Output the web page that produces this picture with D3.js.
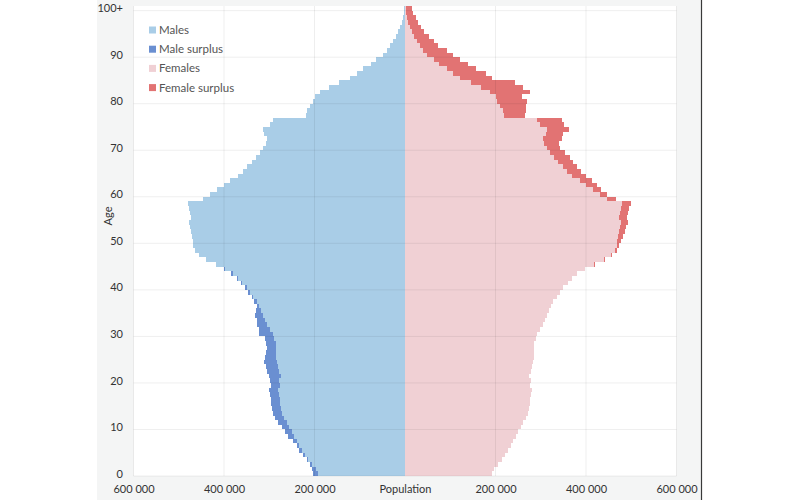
<!DOCTYPE html>
<html>
<head>
<meta charset="utf-8">
<script src="https://cdn.jsdelivr.net/npm/d3@7"></script>
<style>
  html, body { margin: 0; padding: 0; background: #ffffff; }
  svg { display: block; font-family: Lato, "Open Sans", sans-serif; }
</style>
</head>
<body>
<svg id="chart" width="800" height="500"></svg>
<script>
// Ages 0 .. 100 (last bar = 100+)
const ages = d3.range(0, 101);
const ageTicks = [0, 10, 20, 30, 40, 50, 60, 70, 80, 90, 100];
const ageTickLabels = ["0", "10", "20", "30", "40", "50", "60", "70", "80", "90", "100+"];
const popTicks = [-600000, -400000, -200000, 0, 200000, 400000, 600000];
const popTickLabels = ["600 000", "400 000", "200 000", "Population", "200 000", "400 000", "600 000"];

// thousands
const males = [
  203, 206, 211, 217, 225, 234, 239, 247, 258, 265,
  272, 280, 287, 291, 295, 296, 297, 298, 300, 297,
  298, 300, 304, 307, 312, 309, 307, 306, 307, 309,
  322, 322, 326, 328, 331, 330, 328, 333, 339, 346,
  353, 362, 372, 385, 400, 418, 440, 455, 464, 468,
  469, 471, 473, 475, 477, 474, 475, 477, 479, 446,
  431, 415, 401, 387, 368, 357, 350, 339, 329, 320,
  313, 307, 306, 311, 313, 298, 291, 219, 217, 210,
  203, 200, 188, 167, 145, 122, 107, 92, 76, 63,
  49, 40, 33, 26, 20, 15, 11, 7, 5, 3,
  3
];
const females = [
  192, 197, 206, 214, 221, 228, 234, 239, 245, 250,
  256, 261, 267, 272, 275, 276, 276, 278, 280, 276,
  278, 275, 278, 280, 282, 284, 284, 284, 286, 290,
  292, 298, 306, 309, 313, 318, 322, 328, 335, 343,
  350, 361, 368, 381, 398, 420, 442, 458, 468, 474,
  478, 482, 486, 489, 492, 490, 492, 494, 500, 466,
  446, 434, 424, 413, 401, 390, 381, 372, 365, 354,
  343, 341, 346, 350, 363, 351, 348, 265, 267, 267,
  269, 258, 276, 261, 243, 192, 179, 158, 140, 122,
  105, 92, 74, 63, 52, 42, 35, 29, 24, 18,
  15
];

const legendItems = ["Males", "Male surplus", "Females", "Female surplus"];
const colors = {
  "Males": "#a9cde7",
  "Male surplus": "#6a8fd1",
  "Females": "#f0d0d4",
  "Female surplus": "#e27373"
};

const svg = d3.select("#chart");
const W = 800, H = 500;

const plot = { left: 133.5, right: 676.5, top: 6, bottom: 476 };

const x = d3.scaleLinear().domain([-600000, 600000]).range([plot.left, plot.right]);
const y = d3.scaleLinear().domain([0, 101]).range([plot.bottom, plot.top]);

// background panels
svg.append("rect").attr("x", 97).attr("y", 0).attr("width", 604).attr("height", H).attr("fill", "#f4f5f5");
svg.append("line").attr("x1", 701.5).attr("x2", 701.5).attr("y1", 0).attr("y2", H)
  .attr("stroke", "#3a3a3a").attr("stroke-width", 1.2);
svg.append("rect").attr("x", plot.left).attr("y", plot.top)
  .attr("width", plot.right - plot.left).attr("height", plot.bottom - plot.top).attr("fill", "#ffffff");

const data = ages.map((a, i) => ({ age: a, m: males[i] * 1000, f: females[i] * 1000 }));

const bars = svg.append("g").attr("shape-rendering", "crispEdges");
const bh = d => y(d.age) - y(d.age + 1);

// male base
bars.selectAll(".mb").data(data).join("rect")
  .attr("x", d => x(-Math.min(d.m, d.f)))
  .attr("y", d => y(d.age + 1))
  .attr("width", d => x(0) - x(-Math.min(d.m, d.f)))
  .attr("height", bh)
  .attr("fill", colors["Males"]);
// male surplus
bars.selectAll(".ms").data(data.filter(d => d.m > d.f)).join("rect")
  .attr("x", d => x(-d.m))
  .attr("y", d => y(d.age + 1))
  .attr("width", d => x(-d.f) - x(-d.m))
  .attr("height", bh)
  .attr("fill", colors["Male surplus"]);
// female base
bars.selectAll(".fb").data(data).join("rect")
  .attr("x", x(0))
  .attr("y", d => y(d.age + 1))
  .attr("width", d => x(Math.min(d.m, d.f)) - x(0))
  .attr("height", bh)
  .attr("fill", colors["Females"]);
// female surplus
bars.selectAll(".fs").data(data.filter(d => d.f > d.m)).join("rect")
  .attr("x", d => x(d.m))
  .attr("y", d => y(d.age + 1))
  .attr("width", d => x(d.f) - x(d.m))
  .attr("height", bh)
  .attr("fill", colors["Female surplus"]);

// gridlines on top (faint)
const grid = svg.append("g").attr("stroke", "#000").attr("stroke-opacity", 0.065).attr("stroke-width", 1);
grid.selectAll(".hg").data(ageTicks).join("line")
  .attr("x1", plot.left).attr("x2", plot.right)
  .attr("y1", d => y(d)).attr("y2", d => y(d));
grid.selectAll(".vg").data(popTicks.filter(v => v !== 0)).join("line")
  .attr("x1", d => x(d)).attr("x2", d => x(d))
  .attr("y1", plot.top).attr("y2", plot.bottom);

// Y axis
const yAxis = d3.axisLeft(y).tickValues(ageTicks)
  .tickFormat((d, i) => ageTickLabels[i]).tickSize(0).tickPadding(0);
const gy = svg.append("g").attr("transform", `translate(123,0)`).call(yAxis);
gy.select(".domain").remove();
gy.selectAll("text").attr("font-size", 11).attr("fill", "#333").attr("font-family", "Lato, sans-serif").attr("dy", "0.1em");

svg.append("text")
  .attr("transform", "translate(112,216) rotate(-90)")
  .attr("text-anchor", "middle")
  .attr("font-size", 11).attr("fill", "#333")
  .text("Age");

// X axis
const xAxis = d3.axisBottom(x).tickValues(popTicks)
  .tickFormat((d, i) => popTickLabels[i]).tickSize(0).tickPadding(0);
const gx = svg.append("g").attr("transform", `translate(0,485)`).call(xAxis);
gx.select(".domain").remove();
gx.selectAll("text").attr("font-size", 11).attr("fill", "#333").attr("font-family", "Lato, sans-serif");

// Legend
const lg = svg.append("g").attr("transform", "translate(149,30)");
const li = lg.selectAll("g").data(legendItems).join("g")
  .attr("transform", (d, i) => `translate(0,${i * 19.2})`);
li.append("rect").attr("x", 0).attr("y", -3.5).attr("width", 7).attr("height", 7)
  .attr("fill", d => colors[d]);
li.append("text").attr("x", 10).attr("y", 0).attr("dy", "0.35em")
  .attr("font-size", 11.5).attr("fill", "#555").text(d => d);
</script>
</body>
</html>
